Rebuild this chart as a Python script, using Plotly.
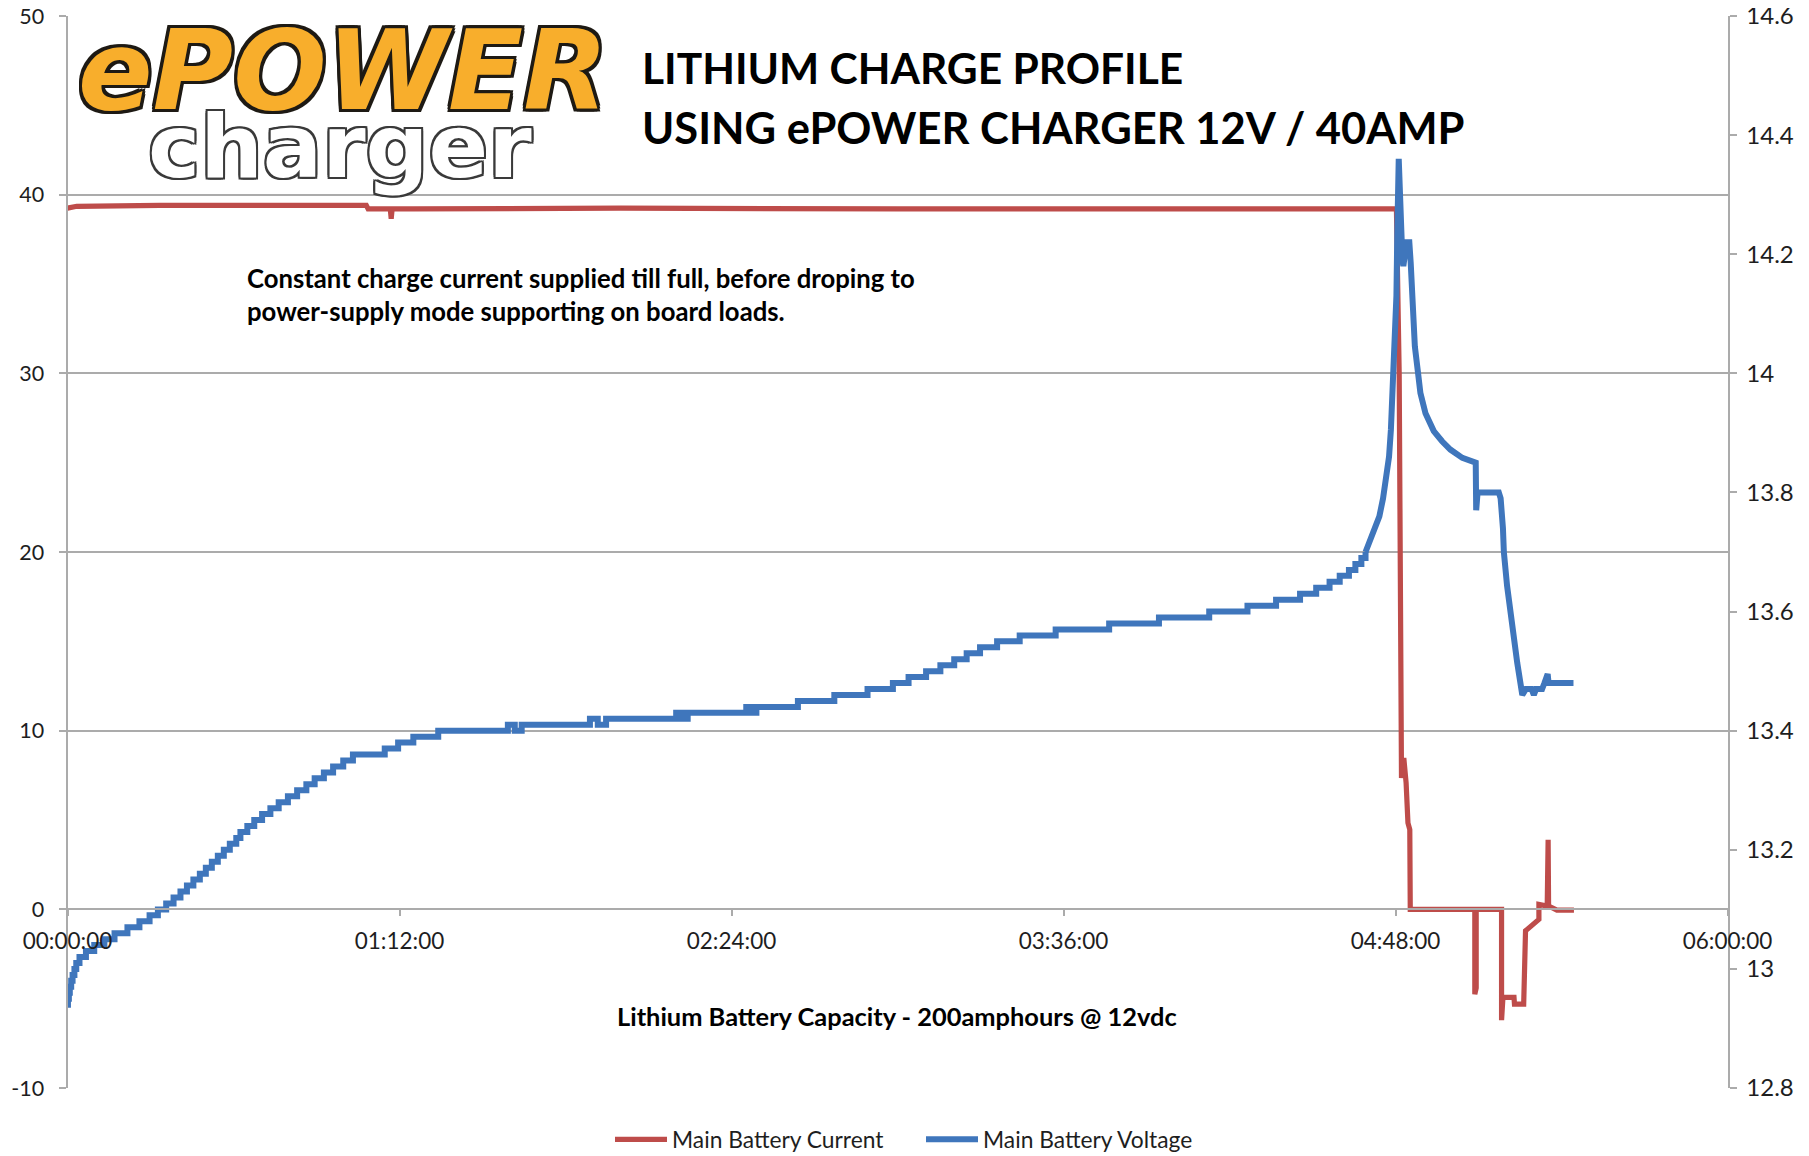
import plotly.graph_objects as go

FONT = "Lato"
RED = "#BE4C4A"
BLUE = "#3F76BC"
GRID = "#ABABAB"
INK = "#1E1E1E"

# Main Battery Current: minutes since start, amps
current_min = [0, 2, 20, 45, 64.8, 65.2, 70, 70.2, 70.4, 75, 120, 180, 240, 287.6, 288.2, 288.8, 289.1,
               289.3, 289.3, 289.8, 290.3, 290.7, 291.1, 291.2, 305.2, 305.2, 305.5, 305.5,
               311, 311, 311.3, 313.7, 313.8, 315.8, 315.9, 316.2, 319.1, 319.1, 320.9, 321.1, 321.2, 323, 326.7]
current_amps = [39.25, 39.35, 39.4, 39.4, 39.4, 39.2, 39.2, 38.65, 39.2, 39.2, 39.25, 39.2, 39.2, 39.2, 39.2, 30, 15,
                8.57, 7.36, 8.47, 7.08, 4.84, 4.47, 0, 0, -4.75, -4.4, 0,
                0, -6.2, -4.93, -4.93, -5.3, -5.3, -2.2, -1.2, -0.56, 0.28, 0.19, 3.9, 0.19, -0.04, -0.04]

# Main Battery Voltage, stepped part: minutes at which each reading began, volts
step_min = [0, 0.1, 0.3, 0.5, 0.8, 1.1, 1.5, 1.9, 2.6, 4.0, 5.8, 8.0, 10.2, 13, 15.6, 17.8, 19.6, 21.4, 23, 24.5,
            25.9, 27.3, 28.7, 30, 31.3, 32.6, 33.9, 35.2, 36.6, 37.5, 39, 40.5, 42.2, 44, 45.8, 47.8, 49.8, 51.8,
            53.6, 55.6, 57.6, 59.8, 61.9, 68.8, 71.7, 75, 80.4, 95.5, 97, 98.5, 99.8, 113.3, 115, 116.8, 132, 133.2,
            134.5, 147.2, 148.3, 149.4, 158.4, 166.3, 173.5, 179, 182.4, 186.2, 189.3, 192.3, 195, 197.9, 201.6,
            206.5, 214.3, 225.9, 236.7, 247.6, 255.9, 262.1, 267.3, 270.8, 273.7, 275.9, 277.9, 279.3, 280.6, 281.5]
step_volts = [12.94, 12.95, 12.96, 12.97, 12.98, 12.99, 13.00, 13.01, 13.02, 13.03, 13.04, 13.05, 13.06, 13.07, 13.08,
              13.09, 13.10, 13.11, 13.12, 13.13, 13.14, 13.15, 13.16, 13.17, 13.18, 13.19, 13.20, 13.21, 13.22, 13.23,
              13.24, 13.25, 13.26, 13.27, 13.28, 13.29, 13.30, 13.31, 13.32, 13.33, 13.34, 13.35, 13.36, 13.37, 13.38,
              13.39, 13.40, 13.41, 13.40, 13.41, 13.41, 13.42, 13.41, 13.42, 13.43, 13.42, 13.43, 13.44, 13.43, 13.44,
              13.45, 13.46, 13.47, 13.48, 13.49, 13.50, 13.51, 13.52, 13.53, 13.54, 13.55, 13.56, 13.57, 13.58, 13.59,
              13.60, 13.61, 13.62, 13.63, 13.64, 13.65, 13.66, 13.67, 13.68, 13.69, 13.70]

# Main Battery Voltage, spike and recovery
tail_min = [281.5, 282.6, 283.5, 284.5, 285.3, 286, 286.6, 287, 287.5, 288.2, 288.4, 288.7, 289.5, 289.7, 290.4, 291,
            291.3, 291.7, 292.2, 292.9, 293.4, 294.5, 296.3, 298.1, 299.9, 302.5, 305, 305.4, 305.5, 305.8, 310.4,
            310.8, 311.3, 311.5, 312.2, 313.3, 314.4, 315.5, 316, 316.3, 317.5, 318, 318.5, 319.8, 320.3, 321, 321.2, 326.6]
tail_volts = [13.70, 13.72, 13.738, 13.76, 13.79, 13.822, 13.86, 13.905, 14.0, 14.13, 14.24, 14.36, 14.19, 14.18, 14.22,
              14.22, 14.185, 14.10, 14.045, 14.0, 13.967, 13.933, 13.903, 13.886, 13.872, 13.858, 13.851, 13.85, 13.77,
              13.80, 13.80, 13.79, 13.74, 13.70, 13.643, 13.57, 13.514, 13.46, 13.47, 13.47, 13.47, 13.46, 13.47, 13.47,
              13.48, 13.495, 13.48, 13.48]

x_tick_min = [0, 72, 144, 216, 288, 360]
x_tick_labels = ["00:00:00", "01:12:00", "02:24:00", "03:36:00", "04:48:00", "06:00:00"]
left_ticks = [-10, 0, 10, 20, 30, 40, 50]
left_labels = ["-10", "0", "10", "20", "30", "40", "50"]
right_ticks = [12.8, 13, 13.2, 13.4, 13.6, 13.8, 14, 14.2, 14.4, 14.6]
right_labels = ["12.8", "13", "13.2", "13.4", "13.6", "13.8", "14", "14.2", "14.4", "14.6"]

# The page sits 8 px in from the window's corner; the plot area is set by axis domains
OFFSET = 8
W, H = 1793, 1153
PLOT_LEFT, PLOT_RIGHT, PLOT_TOP, PLOT_BOTTOM = 67.5, 1727.5, 16, 1089


def px(v):
    return (v - OFFSET) / W


def py(v):
    return 1 - (v - OFFSET) / H


fig = go.Figure()
fig.add_trace(go.Scatter(x=current_min, y=current_amps, mode="lines", name="Main Battery Current",
                         line=dict(color=RED, width=5.2), yaxis="y"))
fig.add_trace(go.Scatter(x=step_min, y=step_volts, mode="lines", name="Main Battery Voltage",
                         line=dict(color=BLUE, width=6, shape="hv"), yaxis="y2"))
fig.add_trace(go.Scatter(x=tail_min, y=tail_volts, mode="lines", showlegend=False,
                         line=dict(color=BLUE, width=6), yaxis="y2"))


def note(text, x, y, size, color="#000000", family=FONT, anchor="left", **font):
    fig.add_annotation(xref="paper", yref="paper", x=px(x), y=py(y), xanchor=anchor, yanchor="middle",
                       text=text, showarrow=False, font=dict(family=family, size=size, color=color, **font))


def outline(color, r):
    offs = [(-r, 0), (r, 0), (0, -r), (0, r), (-r, -r), (r, r), (-r, r), (r, -r)]
    return ", ".join(f"{a}px {b}px 0 {color}" for a, b in offs)


note("ePOWER", 76, 71, 110, "#F8AE2C", "DejaVu Sans", weight=700, style="italic", shadow=outline("#1E1A14", 3))
note("charger", 146, 147, 88, "#FFFFFF", "DejaVu Sans", weight=700, shadow=outline("#3A3A3A", 2))
note("LITHIUM CHARGE PROFILE", 640, 68, 42.5, weight=700)
note("USING ePOWER CHARGER 12V / 40AMP", 640, 127, 43.5, weight=700)
note("Constant charge current supplied till full, before droping to", 245, 278, 25.7, weight=700)
note("power-supply mode supporting on board loads.", 245, 311, 25.7, weight=700)
note("Lithium Battery Capacity - 200amphours @ 12vdc", 615, 1017, 25.4, weight=700)

y_low, y_high = py(PLOT_BOTTOM), py(PLOT_TOP)

fig.update_layout(
    width=W, height=H, autosize=False,
    margin=dict(l=0, r=0, t=0, b=0, pad=0),
    paper_bgcolor="white", plot_bgcolor="white",
    font=dict(family=FONT, size=22, color=INK),
    hovermode=False,
    xaxis=dict(domain=[px(PLOT_LEFT), px(PLOT_RIGHT)], range=[0, 360], tickvals=x_tick_min, ticktext=x_tick_labels,
               anchor="free", position=y_low + (y_high - y_low) / 6, automargin=False,
               showgrid=False, zeroline=False, showline=True, linecolor=GRID, linewidth=2,
               ticks="outside", ticklen=6, tickcolor=GRID, tickwidth=2, ticklabelstandoff=6,
               tickfont=dict(family=FONT, size=22.5, color=INK)),
    yaxis=dict(domain=[y_low, y_high], range=[-10, 50], tickvals=left_ticks, ticktext=left_labels, showgrid=True,
               gridcolor=GRID, gridwidth=2, zeroline=False, showline=True, linecolor=GRID, linewidth=2,
               ticks="outside", ticklen=7, tickcolor=GRID, tickwidth=2, ticklabelstandoff=10,
               ticklabeloverflow="allow", automargin=False, tickfont=dict(family=FONT, size=21.5, color=INK)),
    yaxis2=dict(domain=[y_low, y_high], range=[12.8, 14.6], tickvals=right_ticks, ticktext=right_labels,
                automargin=False, overlaying="y", side="right", anchor="x", showgrid=False, zeroline=False,
                showline=True, linecolor=GRID, linewidth=2, ticks="outside", ticklen=7, tickcolor=GRID, tickwidth=2,
                ticklabelstandoff=5, ticklabeloverflow="allow", tickfont=dict(family=FONT, size=24, color=INK)),
    legend=dict(orientation="h", x=px(610), xanchor="left", y=py(1140), yanchor="middle",
                itemwidth=52, entrywidth=244, entrywidthmode="pixels",
                font=dict(family=FONT, size=22.8, color=INK), bgcolor="rgba(0,0,0,0)"),
)

fig.write_html("out.html")
